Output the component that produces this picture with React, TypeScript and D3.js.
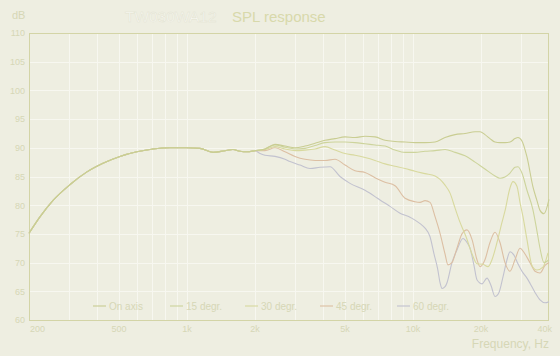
import React from 'react';
import * as d3 from 'd3';

// ---------- data ----------
const yTicks = [60, 65, 70, 75, 80, 85, 90, 95, 100, 105, 110];
const xTickValues = [200, 500, 1000, 2000, 5000, 10000, 20000, 40000];
const xTickLabels = ['200', '500', '1k', '2k', '5k', '10k', '20k', '40k'];
const seriesNames = ['On axis', '15 degr.', '30 degr.', '45 degr.', '60 degr.'];

// common low-frequency part (all angles coincide)
const lowBand: [number, number][] = [
  [200, 75.1], [224, 78.0], [255, 80.8], [304, 83.6], [361, 85.8], [425, 87.3],
  [505, 88.5], [600, 89.3], [709, 89.8], [841, 90.0], [1000, 90.0], [1140, 89.9],
  [1304, 89.2], [1473, 89.5], [1598, 89.7], [1717, 89.4], [1850, 89.3],
];

const onAxis: [number, number][] = [
  [2000, 89.5], [2214, 89.8], [2452, 90.6], [2715, 90.3], [3007, 90.0], [3329, 90.3],
  [3687, 90.8], [4082, 91.3], [4520, 91.6], [5005, 91.9], [5542, 91.8], [6137, 92.0],
  [6795, 91.9], [7525, 91.3], [8332, 91.1], [9226, 91.0], [10216, 90.9], [11312, 90.9],
  [12526, 91.0], [13870, 91.8], [15359, 92.3], [17007, 92.5], [18832, 92.8], [19816, 92.8],
  [20832, 92.3], [21922, 91.6], [23068, 91.0], [24274, 90.9], [25544, 90.9], [26880, 91.0],
  [28286, 91.6], [29150, 91.8], [30366, 91.2], [31957, 88.4], [33967, 83.2], [35380, 80.8],
  [36496, 79.1], [37998, 78.5], [40000, 81.0],
];

const deg15: [number, number][] = [
  [2000, 89.5], [2214, 89.8], [2452, 90.5], [2715, 90.1], [3007, 89.8], [3329, 89.9],
  [3687, 90.4], [4082, 90.9], [4520, 91.0], [5005, 91.0], [5542, 90.9], [6137, 90.7],
  [6795, 90.5], [7525, 90.3], [8332, 89.6], [9226, 89.2], [10216, 89.2], [11312, 89.4],
  [12526, 89.5], [13870, 89.7], [15359, 89.2], [17007, 88.6], [18832, 87.5], [20832, 86.3],
  [23068, 85.1], [24274, 84.7], [25544, 84.9], [26880, 85.6], [28286, 86.6], [29150, 86.7],
  [30366, 85.6], [31957, 82.6], [33967, 79.2], [35380, 75.5], [36496, 72.5], [37998, 70.0],
  [40000, 70.5],
];

const deg30: [number, number][] = [
  [2000, 89.5], [2214, 89.7], [2452, 90.2], [2715, 89.8], [3007, 89.5], [3329, 89.6],
  [3687, 89.8], [4082, 90.2], [4520, 89.6], [5005, 89.0], [5542, 88.7], [6137, 88.3],
  [6795, 87.8], [7525, 87.2], [8332, 86.8], [9226, 86.4], [10216, 85.9], [11312, 85.5],
  [12526, 85.1], [13870, 83.5], [14595, 82.1], [15359, 79.5], [16162, 77.0], [17180, 74.5],
  [18264, 71.5], [19200, 69.8], [20412, 69.7], [21478, 69.3], [22371, 70.5], [23542, 73.5],
  [24771, 77.0], [25544, 79.0], [26880, 83.0], [27709, 84.1], [28855, 83.3], [29764, 80.5],
  [30677, 78.0], [31957, 74.0], [33622, 69.5], [35380, 68.7], [37613, 69.2], [39579, 71.7],
];

const deg45: [number, number][] = [
  [2000, 89.5], [2214, 89.5], [2452, 90.0], [2715, 89.3], [3007, 88.5], [3329, 88.0],
  [3687, 87.8], [4082, 87.8], [4520, 88.0], [5005, 87.0], [5542, 86.0], [6137, 85.7],
  [6795, 84.8], [7525, 84.0], [8332, 83.4], [9226, 81.2], [10216, 80.6], [10750, 80.5],
  [11312, 80.8], [11904, 80.5], [12526, 78.0], [13181, 75.1], [13870, 71.5], [14291, 69.6],
  [14883, 70.0], [15660, 72.5], [16483, 75.0], [17345, 75.7], [18264, 74.0], [19200, 70.5],
  [19816, 69.3], [20832, 70.5], [21922, 73.5], [23068, 75.3], [24274, 73.5], [25544, 70.0],
  [26880, 68.5], [28286, 70.5], [29764, 72.5], [31320, 71.5], [32958, 70.0], [34682, 68.5],
  [36496, 68.2], [38404, 69.5], [40000, 70.0],
];

const deg60: [number, number][] = [
  [2000, 89.5], [2105, 89.0], [2214, 88.7], [2452, 88.5], [2715, 88.0], [2857, 87.6],
  [3164, 87.0], [3503, 86.4], [3879, 86.6], [4296, 86.7], [4757, 85.0], [5267, 83.8],
  [6137, 82.6], [6795, 81.5], [7151, 80.9], [7918, 79.8], [8768, 78.6], [9708, 77.9],
  [10216, 77.4], [10750, 76.8], [11312, 76.0], [11904, 74.5], [12393, 71.5], [12849, 69.0],
  [13181, 66.5], [13450, 65.5], [13870, 65.8], [14150, 66.5], [14883, 70.0], [15660, 72.2],
  [16650, 74.2], [17345, 73.5], [17896, 72.5], [18627, 69.5], [19200, 67.0], [20205, 66.3],
  [21267, 67.3], [22151, 66.0], [23068, 64.1], [24030, 64.8], [25032, 67.5], [26073, 70.5],
  [26880, 71.9], [27994, 71.3], [29150, 69.8], [30366, 68.5], [31957, 67.3], [32958, 66.4],
  [34682, 64.8], [36496, 63.5], [38404, 63.0], [40000, 63.2],
];

const seriesData = [onAxis, deg15, deg30, deg45, deg60];
const seriesColors = ['#c9cd92', '#cdd49c', '#d8d99e', '#dcbfa3', '#c2c2cf'];

// ---------- layout ----------
const W = 560;
const H = 356;
const PL = 29, PR = 549, PT = 33, PB = 320;
const FONT = 'Liberation Sans, Arial, Helvetica, sans-serif';
const BG = '#eeeee1';
const AXIS = '#d3d4a6';
const TXT = '#d6d7b6';

export default function App() {
  const x = d3.scaleLog().domain([200, 40000]).range([PL, PR]);
  const y = d3.scaleLinear().domain([60, 110]).range([PB, PT]);

  const line = d3
    .line<[number, number]>()
    .x((d) => x(d[0]))
    .y((d) => y(d[1]))
    .curve(d3.curveMonotoneX);

  // vertical grid: log minor ticks
  const gridX: number[] = [];
  for (const dec of [100, 1000, 10000]) {
    for (let m = 1; m <= 9; m++) {
      const f = dec * m;
      if (f > 200 && f < 40000) gridX.push(f);
    }
  }
  const gridY = d3.range(60, 110.01, 5).filter((v) => v > 60 && v < 110);

  const legendX = [93, 170, 245, 320, 397];

  return (
    <svg
      width={W}
      height={H}
      viewBox={`0 0 ${W} ${H}`}
      style={{ position: 'absolute', left: 0, top: 0, display: 'block' }}
      fontFamily={FONT}
    >
      <rect x={0} y={0} width={W} height={H} fill={BG} />

      {/* grid */}
      <g stroke="#f7f7f0" strokeWidth={1}>
        {gridX.map((f) => (
          <line key={'gx' + f} x1={Math.round(x(f)) + 0.5} x2={Math.round(x(f)) + 0.5} y1={PT} y2={PB} />
        ))}
        {gridY.map((v) => (
          <line key={'gy' + v} x1={PL} x2={PR} y1={Math.round(y(v)) + 0.5} y2={Math.round(y(v)) + 0.5} />
        ))}
      </g>

      {/* frame */}
      <rect x={PL + 0.5} y={PT + 0.5} width={PR - PL - 1} height={PB - PT} fill="none" stroke={AXIS} strokeWidth={1} />

      {/* curves (drawn back to front) */}
      <g fill="none" strokeWidth={1.1}>
        {seriesData
          .map((s, i) => ({ s, i }))
          .reverse()
          .map(({ s, i }) => (
            <path key={'s' + i} d={line([...lowBand, ...s]) || ''} stroke={seriesColors[i]} />
          ))}
      </g>

      {/* y ticks */}
      <g fontSize={9} fill={TXT} textAnchor="end">
        {yTicks.map((v) => (
          <text key={'yt' + v} x={25} y={y(v) + 3.3}>
            {v}
          </text>
        ))}
      </g>
      <text x={12} y={18.5} fontSize={11} fill={TXT}>
        dB
      </text>

      {/* x ticks */}
      <g fontSize={9} fill={TXT}>
        {xTickValues.map((f, i) => {
          const first = i === 0;
          const last = i === xTickValues.length - 1;
          return (
            <text
              key={'xt' + f}
              x={first ? x(f) + 1 : last ? x(f) + 3 : x(f)}
              y={331.5}
              textAnchor={first ? 'start' : last ? 'end' : 'middle'}
            >
              {xTickLabels[i]}
            </text>
          );
        })}
      </g>
      <text x={549} y={348} fontSize={12} fill={TXT} textAnchor="end">
        Frequency, Hz
      </text>

      {/* title */}
      <text x={125} y={22} fontSize={15.5} fill="#fafaf4" stroke="#e2e2d0" strokeWidth={0.5}>
        TW030WA12
      </text>
      <text x={232} y={22} fontSize={15} fill="#d8d9ab">
        SPL response
      </text>

      {/* legend */}
      <g fontSize={10}>
        {seriesNames.map((n, i) => (
          <g key={'lg' + i}>
            <line x1={legendX[i]} x2={legendX[i] + 13} y1={306} y2={306} stroke={seriesColors[i]} strokeWidth={1.1} />
            <text x={legendX[i] + 16} y={309.5} fill={TXT}>
              {n}
            </text>
          </g>
        ))}
      </g>
    </svg>
  );
}
